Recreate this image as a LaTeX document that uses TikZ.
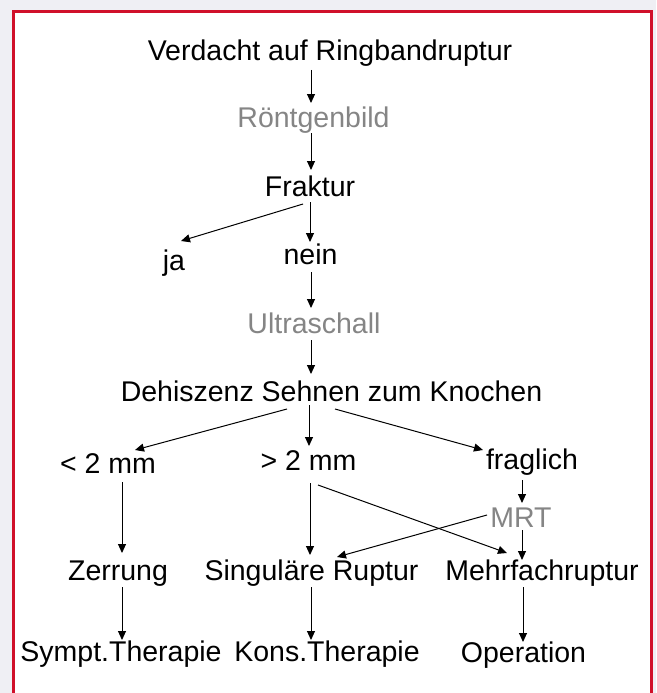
\documentclass[tikz,border=0pt]{standalone}
\usepackage{fontspec}
\setmainfont{Liberation Sans}
\usetikzlibrary{arrows.meta}
\definecolor{pagebg}{HTML}{EFEFF4}
\definecolor{frame}{HTML}{D0102A}
\definecolor{muted}{HTML}{858585}
\tikzset{
  lbl/.style={anchor=base, inner sep=0pt, font=\fontsize{28.5}{34}\selectfont, text=black},
  mutedlbl/.style={lbl, text=muted},
  arr/.style={draw=black, line width=1pt, -{Triangle[length=9pt,width=8pt]}}
}
\begin{document}
\begin{tikzpicture}[x=1pt,y=-1pt]
% page and framed panel
\useasboundingbox (0,0) rectangle (656,693);
\fill[pagebg] (0,0) rectangle (656,693);
\fill[white] (13.5,12) rectangle (651.5,700);
\draw[frame, line width=3pt] (13.5,700) -- (13.5,12) -- (651.5,12) -- (651.5,700);

% labels (placed by baseline)
\node[lbl]      (v)    at (330,60)   {Verdacht auf Ringbandruptur};
\node[mutedlbl] (r)    at (313.5,127) {Röntgenbild};
\node[lbl]      (f)    at (310,196)  {Fraktur};
\node[lbl]      (ja)   at (174,270)  {ja};
\node[lbl]      (nein) at (310.5,264) {nein};
\node[mutedlbl] (u)    at (314,333)  {Ultraschall};
\node[lbl]      (d)    at (331.5,401) {Dehiszenz Sehnen zum Knochen};
\node[lbl]      (lt)   at (108,473)  {< 2 mm};
\node[lbl]      (gt)   at (308.5,470) {> 2 mm};
\node[lbl]      (fr)   at (532,469)  {fraglich};
\node[mutedlbl] (mrt)  at (521,527)  {MRT};
\node[lbl]      (z)    at (118,580)  {Zerrung};
\node[lbl]      (s)    at (311.5,580) {Singuläre Ruptur};
\node[lbl]      (m)    at (542,580)  {Mehrfachruptur};
\node[lbl]      (st)   at (121,661)  {Sympt.Therapie};
\node[lbl]      (k)    at (327,661)  {Kons.Therapie};
\node[lbl]      (op)   at (523.5,662) {Operation};

% connectors
\draw[arr] ([xshift=-19pt,yshift=-10pt]v.base) -- ([xshift=-2.5pt,yshift=24pt]r.base);
\draw[arr] ([xshift=-2.5pt,yshift=-6pt]r.base) -- ([xshift=1pt,yshift=26pt]f.base);
\draw[arr] ([xshift=-7pt,yshift=-8pt]f.base) -- ([xshift=7pt,yshift=29pt]ja.base);
\draw[arr] ([xshift=0pt,yshift=-6pt]f.base) -- ([xshift=-0.5pt,yshift=22pt]nein.base);
\draw[arr] ([xshift=0.5pt,yshift=-8pt]nein.base) -- ([xshift=-3pt,yshift=25pt]u.base);
\draw[arr] ([xshift=-3pt,yshift=-7pt]u.base) -- ([xshift=-20.5pt,yshift=27pt]d.base);
\draw[arr] ([xshift=-44.5pt,yshift=-8pt]d.base) -- ([xshift=27pt,yshift=23pt]lt.base);
\draw[arr] ([xshift=-22.5pt,yshift=-4pt]d.base) -- ([xshift=0.5pt,yshift=24pt]gt.base);
\draw[arr] ([xshift=3.5pt,yshift=-8pt]d.base) -- ([xshift=-49pt,yshift=19pt]fr.base);
\draw[arr] ([xshift=14pt,yshift=-9pt]lt.base) -- ([xshift=4pt,yshift=27pt]z.base);
\draw[arr] ([xshift=1.5pt,yshift=-13pt]gt.base) -- ([xshift=-1.5pt,yshift=25pt]s.base);
\draw[arr] ([xshift=9.5pt,yshift=-15pt]gt.base) -- ([xshift=-35pt,yshift=27pt]m.base);
\draw[arr] ([xshift=-10pt,yshift=-11pt]fr.base) -- ([xshift=1pt,yshift=24pt]mrt.base);
\draw[arr] ([xshift=-34pt,yshift=12pt]mrt.base) -- ([xshift=25.5pt,yshift=23pt]s.base);
\draw[arr] ([xshift=1pt,yshift=-3pt]mrt.base) -- ([xshift=-20pt,yshift=20pt]m.base);
\draw[arr] ([xshift=4pt,yshift=-7pt]z.base) -- ([xshift=1pt,yshift=21pt]st.base);
\draw[arr] ([xshift=-0.5pt,yshift=-7pt]s.base) -- ([xshift=-16pt,yshift=21pt]k.base);
\draw[arr] ([xshift=-19pt,yshift=-7pt]m.base) -- ([xshift=-0.5pt,yshift=20pt]op.base);
\end{tikzpicture}
\end{document}
